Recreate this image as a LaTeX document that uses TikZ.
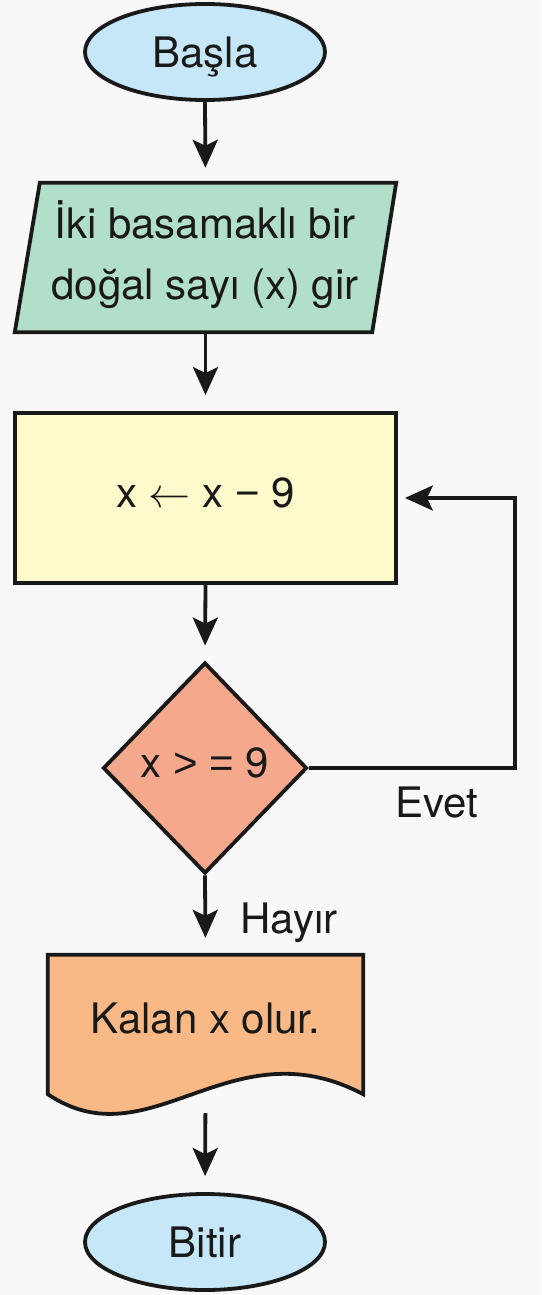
\RequirePackage{fix-cm}
\documentclass[tikz,border=0pt]{standalone}
\usepackage{fontspec}
\setmainfont{TeX Gyre Heros}
\newfontfamily\symf{Liberation Sans}
\usetikzlibrary{shapes.geometric,arrows.meta}
\definecolor{bgc}{RGB}{248,248,248}
\definecolor{termc}{RGB}{198,231,248}
\definecolor{inpc}{RGB}{178,223,202}
\definecolor{procc}{RGB}{255,250,203}
\definecolor{decc}{RGB}{245,169,140}
\definecolor{docc}{RGB}{249,185,134}
\definecolor{inkc}{RGB}{25,25,25}
\tikzset{
  every node/.style={font=\fontsize{42}{61}\selectfont, text=inkc},
  lin/.style={line width=3.8pt, draw=inkc},
  arr/.style={lin, -{Stealth[length=28pt,width=25pt,inset=6pt]}},
  term/.style={ellipse, lin, fill=termc, minimum width=240pt, minimum height=96pt, inner sep=0pt},
}
\begin{document}
\begin{tikzpicture}[x=1pt,y=-1pt]
\useasboundingbox (0,0) rectangle (541,1295);
\fill[bgc] (0,0) rectangle (541,1295);

\node[term, text height=32pt, text depth=0pt] (start) at (205,52) {Başla};

\node[minimum width=381pt, minimum height=149pt, inner sep=0pt] (inp) at (205.5,257.5) {};
\draw[lin, fill=inpc, line join=miter] ([xshift=25pt]inp.north west) -- (inp.north east) -- ([xshift=-24pt]inp.south east) -- (inp.south west) -- cycle;
\node[align=center] (inptxt) at (205,255) {İki basamaklı bir\\doğal sayı (x) gir};

\node[lin, fill=procc, minimum width=381pt, minimum height=170pt, inner sep=0pt, text height=30pt, text depth=12pt] (proc) at (205.5,498) {x $\leftarrow$ x {\symf −} 9};

\node[diamond, lin, fill=decc, minimum width=204pt, minimum height=211pt, inner sep=0pt, text height=30pt, text depth=12pt] (dec) at (205,768) {x {\symf >} {\symf =} 9};

\node[minimum width=315pt, minimum height=139pt, inner sep=0pt] (doc) at (205.5,1024.5) {};
\draw[lin, fill=docc, line join=miter] (doc.south east) -- (doc.north east) -- (doc.north west) -- (doc.south west) .. controls (150,1163) and (230,1024) .. (doc.south east) -- cycle;
\node[text height=30pt, text depth=13pt] (doctxt) at (doc.center) {Kalan x olur.};

\node[term, text height=31pt, text depth=0pt] (stop) at (205,1242) {Bitir};

\draw[arr, shorten >=15pt] (start.south) -- (inp.north);
\draw[arr, shorten >=16pt] (inp.south) -- (proc.north);
\draw[arr, shorten >=15pt] (proc.south) -- (dec.north);
\draw[arr, shorten >=17pt] (dec.south) -- (doc.north);
\draw[arr, shorten <=19pt, shorten >=16pt] (doc.south) -- (stop.north);
\coordinate (loopc) at (515,768);
\draw[arr, line join=miter, shorten >=7pt] (dec.east) -- (loopc) |- (proc.east);

\node[anchor=base] (evet) at (437,817) {Evet};
\node[anchor=base west] (hayir) at (237,933) {Hayır};
\end{tikzpicture}
\end{document}
